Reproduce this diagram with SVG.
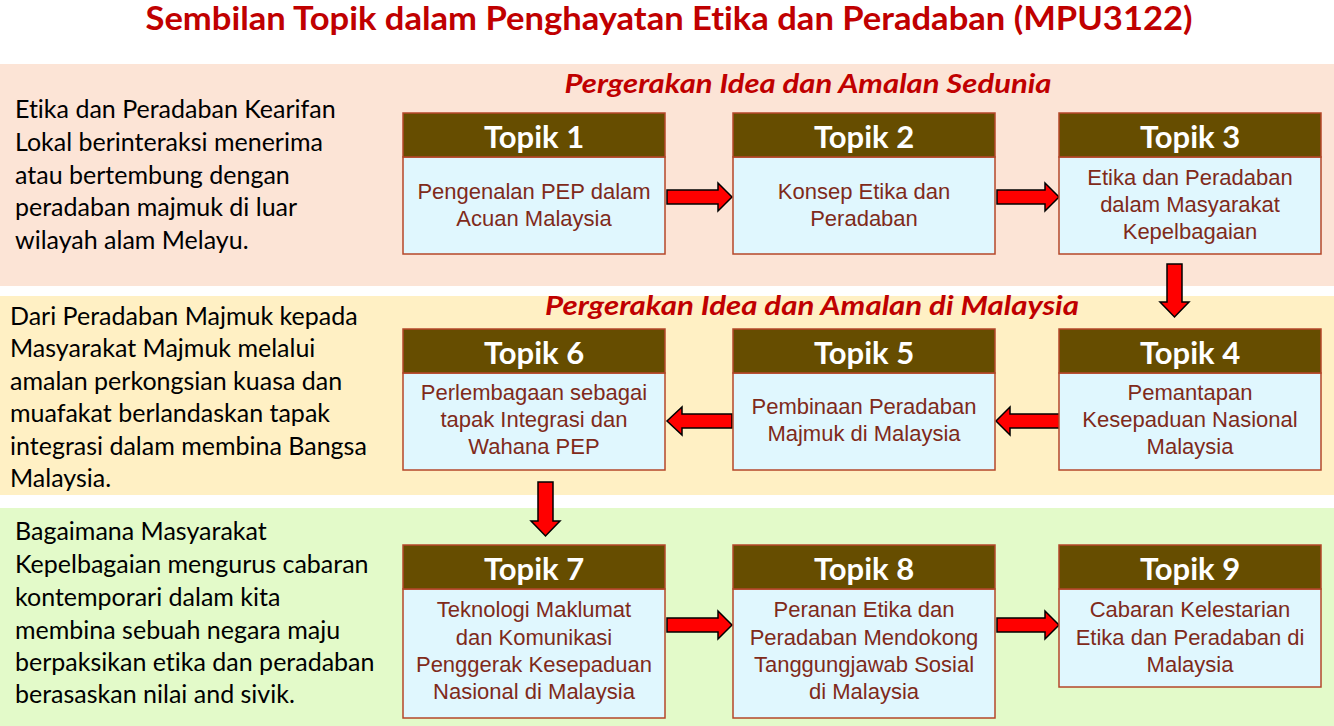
<svg xmlns="http://www.w3.org/2000/svg" width="1334" height="726" viewBox="0 0 1334 726">
<style>
text{font-variant-ligatures:none}
.title{font-family:Lato,"Open Sans","Liberation Sans",sans-serif;font-weight:bold;fill:#C00000}
.sec{font-family:Lato,"Open Sans","Liberation Sans",sans-serif;font-weight:bold;font-style:italic;font-size:26px;fill:#C00000}
.para{font-family:Lato,"Open Sans","Liberation Sans",sans-serif;font-size:25px;fill:#000}
.hdr{fill:#664D00;stroke:#B5472A;stroke-width:1.5}
.body{fill:#E0F7FE;stroke:#B5472A;stroke-width:1.5}
.htxt{font-family:Lato,"Open Sans","Liberation Sans",sans-serif;font-weight:bold;font-size:31px;fill:#fff;text-anchor:middle}
.btxt{font-family:"Liberation Sans",Arial,sans-serif;font-size:22px;fill:#7F2A1A;text-anchor:middle}
.arr{fill:#FF0000;stroke:#000;stroke-width:1.5;stroke-linejoin:miter}
</style>
<rect x="0" y="0" width="1334" height="726" fill="#fff"/>
<!-- bands -->
<rect x="0" y="64" width="1334" height="222" fill="#FCE4D6"/>
<rect x="0" y="296" width="1334" height="199" fill="#FFF0C4"/>
<rect x="0" y="508" width="1334" height="218" fill="#E3FAC9"/>

<text class="title" x="669" y="30" font-size="32" text-anchor="middle" textLength="1047" lengthAdjust="spacingAndGlyphs">Sembilan Topik dalam Penghayatan Etika dan Peradaban (MPU3122)</text>
<text class="sec" x="808" y="93" text-anchor="middle" textLength="487" lengthAdjust="spacingAndGlyphs">Pergerakan Idea dan Amalan Sedunia</text>
<text class="sec" x="812" y="315" text-anchor="middle" textLength="534" lengthAdjust="spacingAndGlyphs">Pergerakan Idea dan Amalan di Malaysia</text>

<g id="desc1" class="para">
<text x="15" y="118">Etika dan Peradaban Kearifan</text>
<text x="15" y="151">Lokal berinteraksi menerima</text>
<text x="15" y="184">atau bertembung dengan</text>
<text x="15" y="216">peradaban majmuk di luar</text>
<text x="15" y="249">wilayah alam Melayu.</text>
</g>
<g id="desc2" class="para">
<text x="10" y="325">Dari Peradaban Majmuk kepada</text>
<text x="10" y="357">Masyarakat Majmuk melalui</text>
<text x="10" y="390">amalan perkongsian kuasa dan</text>
<text x="10" y="422">muafakat berlandaskan tapak</text>
<text x="10" y="455">integrasi dalam membina Bangsa</text>
<text x="10" y="487">Malaysia.</text>
</g>
<g id="desc3" class="para">
<text x="15" y="540">Bagaimana Masyarakat</text>
<text x="15" y="573">Kepelbagaian mengurus cabaran</text>
<text x="15" y="606">kontemporari dalam kita</text>
<text x="15" y="639">membina sebuah negara maju</text>
<text x="15" y="671">berpaksikan etika dan peradaban</text>
<text x="15" y="703">berasaskan nilai and sivik.</text>
</g>

<g id="connectors">
<polygon class="arr" points="667,190 718,190 718,183 732,197 718,211 718,204 667,204"/>
<polygon class="arr" points="997,190 1045,190 1045,183 1059,197 1045,211 1045,204 997,204"/>
<polygon class="arr" points="1167,264 1182,264 1182,302 1189,302 1174.5,317 1160,302 1167,302"/>
<polygon class="arr" points="1061,414 1010,414 1010,407 996,421 1010,435 1010,428 1061,428"/>
<polygon class="arr" points="732,414 682,414 682,407 667,421 682,435 682,428 732,428"/>
<polygon class="arr" points="538,482 553,482 553,521 560,521 545.5,536 531,521 538,521"/>
<polygon class="arr" points="667,618 718,618 718,611 732,625 718,639 718,632 667,632"/>
<polygon class="arr" points="997,618 1045,618 1045,611 1059,625 1045,639 1045,632 997,632"/>
</g>

<g id="topik1">
<rect class="body" x="403" y="157" width="262" height="97"/>
<rect class="hdr" x="403" y="113" width="262" height="44"/>
<text class="htxt" x="534" y="148">Topik 1</text>
<text class="btxt" x="534" y="199">Pengenalan PEP dalam</text>
<text class="btxt" x="534" y="226">Acuan Malaysia</text>
</g>
<g id="topik2">
<rect class="body" x="733" y="157" width="262" height="97"/>
<rect class="hdr" x="733" y="113" width="262" height="44"/>
<text class="htxt" x="864" y="148">Topik 2</text>
<text class="btxt" x="864" y="199">Konsep Etika dan</text>
<text class="btxt" x="864" y="226">Peradaban</text>
</g>
<g id="topik3">
<rect class="body" x="1059" y="157" width="262" height="97"/>
<rect class="hdr" x="1059" y="113" width="262" height="44"/>
<text class="htxt" x="1190" y="148">Topik 3</text>
<text class="btxt" x="1190" y="185">Etika dan Peradaban</text>
<text class="btxt" x="1190" y="212">dalam Masyarakat</text>
<text class="btxt" x="1190" y="239">Kepelbagaian</text>
</g>
<g id="topik4">
<rect class="body" x="1059" y="373" width="262" height="97"/>
<rect class="hdr" x="1059" y="329" width="262" height="44"/>
<text class="htxt" x="1190" y="364">Topik 4</text>
<text class="btxt" x="1190" y="400">Pemantapan</text>
<text class="btxt" x="1190" y="427">Kesepaduan Nasional</text>
<text class="btxt" x="1190" y="454">Malaysia</text>
</g>
<g id="topik5">
<rect class="body" x="733" y="373" width="262" height="97"/>
<rect class="hdr" x="733" y="329" width="262" height="44"/>
<text class="htxt" x="864" y="364">Topik 5</text>
<text class="btxt" x="864" y="414">Pembinaan Peradaban</text>
<text class="btxt" x="864" y="441">Majmuk di Malaysia</text>
</g>
<g id="topik6">
<rect class="body" x="403" y="373" width="262" height="97"/>
<rect class="hdr" x="403" y="329" width="262" height="44"/>
<text class="htxt" x="534" y="364">Topik 6</text>
<text class="btxt" x="534" y="400">Perlembagaan sebagai</text>
<text class="btxt" x="534" y="427">tapak Integrasi dan</text>
<text class="btxt" x="534" y="454">Wahana PEP</text>
</g>
<g id="topik7">
<rect class="body" x="403" y="589" width="262" height="129"/>
<rect class="hdr" x="403" y="545" width="262" height="44"/>
<text class="htxt" x="534" y="580">Topik 7</text>
<text class="btxt" x="534" y="617">Teknologi Maklumat</text>
<text class="btxt" x="534" y="645">dan Komunikasi</text>
<text class="btxt" x="534" y="672">Penggerak Kesepaduan</text>
<text class="btxt" x="534" y="699">Nasional di Malaysia</text>
</g>
<g id="topik8">
<rect class="body" x="733" y="589" width="262" height="129"/>
<rect class="hdr" x="733" y="545" width="262" height="44"/>
<text class="htxt" x="864" y="580">Topik 8</text>
<text class="btxt" x="864" y="617">Peranan Etika dan</text>
<text class="btxt" x="864" y="645">Peradaban Mendokong</text>
<text class="btxt" x="864" y="672">Tanggungjawab Sosial</text>
<text class="btxt" x="864" y="699">di Malaysia</text>
</g>
<g id="topik9">
<rect class="body" x="1059" y="589" width="262" height="98"/>
<rect class="hdr" x="1059" y="545" width="262" height="44"/>
<text class="htxt" x="1190" y="580">Topik 9</text>
<text class="btxt" x="1190" y="617">Cabaran Kelestarian</text>
<text class="btxt" x="1190" y="645">Etika dan Peradaban di</text>
<text class="btxt" x="1190" y="672">Malaysia</text>
</g>
</svg>
